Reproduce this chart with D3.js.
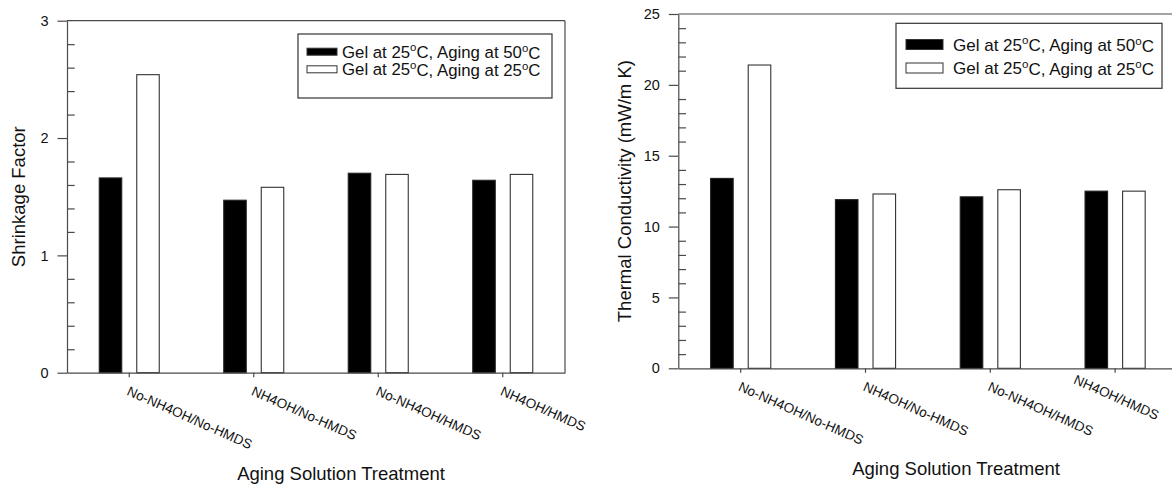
<!DOCTYPE html>
<html>
<head>
<meta charset="utf-8">
<script src="https://cdn.jsdelivr.net/npm/d3@7"></script>
<style>
  body { margin: 0; background: #fff; }
  svg { display: block; font-family: "Liberation Sans", Arial, sans-serif; }
</style>
</head>
<body>
<svg id="chart" width="1172" height="485"></svg>
<script>
// data
var categories = ["No-NH4OH/No-HMDS", "NH4OH/No-HMDS", "No-NH4OH/HMDS", "NH4OH/HMDS"];
var seriesNames = ["Gel at 25°C, Aging at 50°C", "Gel at 25°C, Aging at 25°C"];
var seriesFill = ["#000", "#fff"];
var shrink50 = [1.66, 1.47, 1.70, 1.64];
var shrink25 = [2.54, 1.58, 1.69, 1.69];
var cond50 = [13.4, 11.9, 12.1, 12.5];
var cond25 = [21.4, 12.3, 12.6, 12.5];
var shrinkTicks = [0, 1, 2, 3];
var condTicks = [0, 5, 10, 15, 20, 25];

var lineColor = "#4a4a4a";
var svg = d3.select("#chart");

function drawPanel(p) {
	var g = svg.append("g");
	var x = d3.scaleBand().domain(categories).range([p.x0, p.x1]);
	var half = x.bandwidth() * 0.241;
	var xs = d3.scaleBand().domain(seriesNames).range([-half, half]).paddingInner(0.4);
	var y = d3.scaleLinear().domain(p.domain).range([p.yBot, p.yTop]);

	// bars
	var rows = [];
	categories.forEach(function(c, i) {
		p.series.forEach(function(s, j) {
			rows.push({cat: c, name: seriesNames[j], val: s[i], j: j});
		});
	});
	g.selectAll("rect.bar")
		.data(rows)
		.enter().append("rect")
		.attr("class", "bar")
		.attr("x", function(d){ return x(d.cat) + x.bandwidth() / 2 + xs(d.name); })
		.attr("y", function(d){ return y(d.val); })
		.attr("width", xs.bandwidth())
		.attr("height", function(d){ return y(0) - y(d.val); })
		.attr("fill", function(d){ return seriesFill[d.j]; })
		.attr("stroke", function(d){ return d.j == 0 ? "#222" : "#333"; })
		.attr("stroke-width", 1.1);

	// minor ticks, pointing in
	var minor = d3.range(p.domain[0], p.domain[1] + 1e-9, p.minorStep)
		.filter(function(v){ return p.ticks.indexOf(+v.toFixed(4)) < 0; });
	var minorAxis = g.append("g")
		.attr("transform", "translate(" + p.x0 + ",0)")
		.call(d3.axisRight(y).tickValues(minor).tickSize(7.7).tickSizeOuter(0).tickFormat(""));
	minorAxis.select(".domain").remove();

	// major ticks, pointing out
	var yAxis = g.append("g")
		.attr("transform", "translate(" + p.x0 + ",0)")
		.call(d3.axisLeft(y).tickValues(p.ticks).tickFormat(d3.format("d"))
			.tickSize(9.5).tickSizeOuter(0).tickPadding(9));
	yAxis.selectAll("text").attr("font-size", 14.5).attr("fill", "#111").attr("font-family", null);

	var xAxis = g.append("g")
		.attr("transform", "translate(0," + p.yBot + ")")
		.call(d3.axisBottom(x).tickSize(4.5).tickSizeOuter(0));
	xAxis.selectAll("text")
		.attr("y", 0).attr("x", 0).attr("dy", "0.78em")
		.attr("text-anchor", "start")
		.attr("transform", function(d, i) {
			var o = p.labelShift[i] || [0, 0];
			return "translate(" + (1 + o[0]) + "," + (12 + o[1]) + ") rotate(24)";
		})
		.attr("font-size", 13.6).attr("fill", "#111").attr("font-family", null);

	[yAxis, xAxis, minorAxis].forEach(function(a) {
		a.selectAll("line, path").attr("stroke", lineColor).attr("stroke-width", 1.2);
	});

	// frame
	g.append("line").attr("x1", p.x0).attr("x2", p.x1)
		.attr("y1", p.yTop).attr("y2", p.yTop)
		.attr("stroke", lineColor).attr("stroke-width", 1.2);
	g.append("line").attr("x1", p.x1).attr("x2", p.x1)
		.attr("y1", p.yTop).attr("y2", p.yBot)
		.attr("stroke", lineColor).attr("stroke-width", 1.2);

	// axis titles
	g.append("text")
		.attr("transform", "translate(" + p.yTitleX + "," + (p.yTop + p.yBot) / 2 + ") rotate(-90)")
		.attr("text-anchor", "middle").attr("dy", "0.35em")
		.attr("font-size", 18.5).attr("fill", "#111")
		.text(p.yTitle);
	g.append("text")
		.attr("x", p.xTitleX).attr("y", p.xTitleY)
		.attr("text-anchor", "middle")
		.attr("font-size", 18.5).attr("fill", "#111")
		.text("Aging Solution Treatment");

	// legend
	var L = p.legend;
	g.append("rect").attr("x", L.x).attr("y", L.y).attr("width", L.w).attr("height", L.h)
		.attr("fill", "#fff").attr("stroke", "#333").attr("stroke-width", 1.2);
	var item = g.selectAll("g.leg").data(seriesNames).enter().append("g")
		.attr("transform", function(d, i){ return "translate(0," + L.rows[i] + ")"; });
	item.append("rect")
		.attr("x", L.swX).attr("y", -L.swH / 2).attr("width", L.swW).attr("height", L.swH)
		.attr("fill", function(d, i){ return seriesFill[i]; })
		.attr("stroke", "#333").attr("stroke-width", 1);
	var t = item.append("text")
		.attr("x", L.textX).attr("dy", "0.36em")
		.attr("font-size", L.fs).attr("fill", "#111");
	t.each(function(d) {
		var el = d3.select(this);
		var parts = d.split("°");
		parts.forEach(function(s, k) {
			el.append("tspan").attr("dy", k > 0 ? "0.4em" : null).text(s);
			if (k < parts.length - 1) {
				el.append("tspan").attr("font-size", L.fs * 0.68).attr("dy", "-0.55em").text("o");
			}
		});
	});
}

drawPanel({
	x0: 67, x1: 565, yTop: 20.7, yBot: 372.7,
	domain: [0, 3], ticks: shrinkTicks, minorStep: 0.2,
	series: [shrink50, shrink25],
	yTitle: "Shrinkage Factor", yTitleX: 18.5,
	xTitleX: 341, xTitleY: 479.5,
	labelShift: [],
	legend: {x: 298, y: 34, w: 254, h: 64, swX: 307, swW: 30, swH: 7, textX: 342, rows: [51.7, 69.3], fs: 16.8}
});

drawPanel({
	x0: 678.3, x1: 1177.5, yTop: 14, yBot: 368.3,
	domain: [0, 25], ticks: condTicks, minorStep: 1,
	series: [cond50, cond25],
	yTitle: "Thermal Conductivity (mW/m K)", yTitleX: 625,
	xTitleX: 956, xTitleY: 475,
	// last label is pulled back inside the page edge in the original
	labelShift: [null, null, null, [-39, -7]],
	legend: {x: 896, y: 23.3, w: 266, h: 65, swX: 906, swW: 37, swH: 10, textX: 953, rows: [44.5, 68], fs: 17}
});
</script>
</body>
</html>
